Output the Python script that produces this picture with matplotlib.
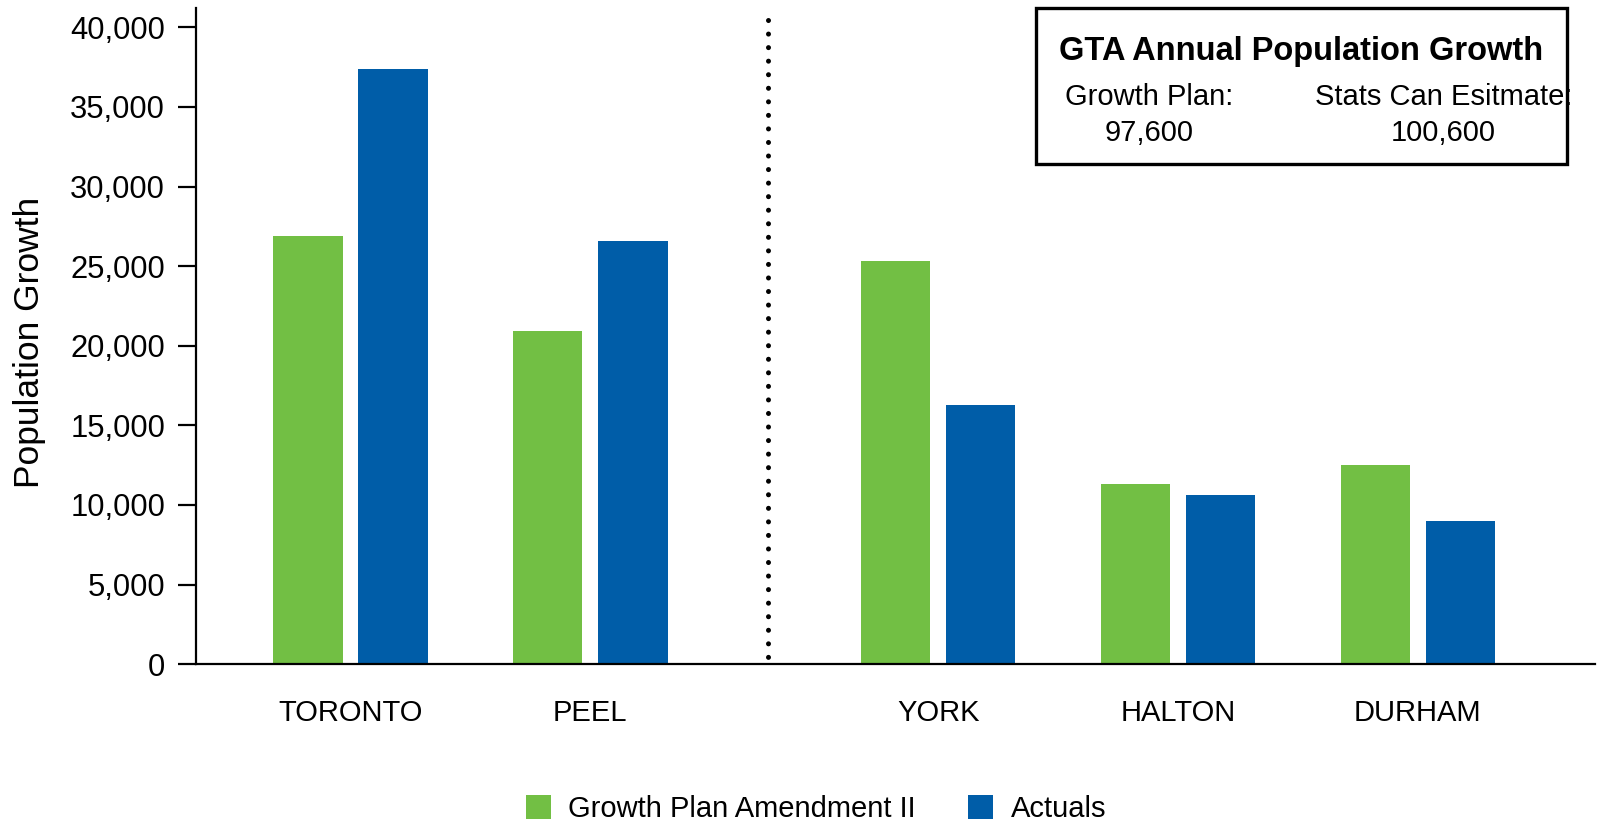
import matplotlib.pyplot as plt
from matplotlib.patches import Rectangle
from matplotlib.ticker import FuncFormatter

plt.rcParams['font.family'] = ['Liberation Sans', 'DejaVu Sans']

# GTA population growth by region
regions = ['TORONTO', 'PEEL', 'YORK', 'HALTON', 'DURHAM']
positions = [0, 1, 2.45, 3.45, 4.45]   # gap after PEEL for the 416 / 905 split
growth_plan = [26900, 20900, 25300, 11300, 12500]
actuals = [37400, 26600, 16300, 10600, 9000]

total_plan = '97,600'
total_statscan = '100,600'

green = '#72BF44'
blue = '#005DA8'

fig = plt.figure(figsize=(15.97, 8.24), dpi=100)
ax = fig.add_axes([0.1225, 0.194, 0.8762, 0.796])

w = 0.29
off = 0.1775
ax.bar([p - off for p in positions], growth_plan, width=w, color=green,
       label='Growth Plan Amendment II')
ax.bar([p + off for p in positions], actuals, width=w, color=blue,
       label='Actuals')

# dotted divider between Toronto/Peel and the rest (drawn top-down so a dot sits at the top)
ax.plot([1.74, 1.74], [40450, 0], color='black', lw=3.6,
        linestyle=(0, (0.01, 2.7)), dash_capstyle='round')

ax.set_xlim(-0.645, 5.188)
ax.set_ylim(0, 41200)
ax.set_yticks(range(0, 40001, 5000))
ax.yaxis.set_major_formatter(FuncFormatter(lambda v, _: f'{int(v):,}'))
ax.set_xticks(positions)
ax.set_xticklabels(regions)

for s in ['top', 'right']:
    ax.spines[s].set_visible(False)
for s in ['left', 'bottom']:
    ax.spines[s].set_linewidth(1.6)

ax.tick_params(axis='y', length=13, width=1.6, pad=9, labelsize=22.3)
ax.tick_params(axis='x', length=0, pad=25, labelsize=21)

ax.set_ylabel('Population Growth', fontsize=25.5)
ax.yaxis.set_label_coords(-0.107, 0.49)

# summary box, top right
fig.patches.append(Rectangle((0.6486, 0.801), 0.9810 - 0.6486, 0.990 - 0.801,
                             transform=fig.transFigure, fill=False,
                             edgecolor='black', lw=2.4))
fig.text(0.815, 0.938, 'GTA Annual Population Growth', ha='center', va='center',
         fontsize=23.5, fontweight='bold')
fig.text(0.7194, 0.882, 'Growth Plan:', ha='center', va='center', fontsize=21)
fig.text(0.7194, 0.839, total_plan, ha='center', va='center', fontsize=21)
fig.text(0.904, 0.882, 'Stats Can Esitmate:', ha='center', va='center', fontsize=21)
fig.text(0.904, 0.839, total_statscan, ha='center', va='center', fontsize=21)

fig.legend(loc='center', bbox_to_anchor=(0.511, 0.018), ncol=2, frameon=False,
           fontsize=21, handlelength=0.85, handleheight=0.85,
           handletextpad=0.6, columnspacing=1.8, borderaxespad=0)

fig.savefig('out.png', dpi=100)
